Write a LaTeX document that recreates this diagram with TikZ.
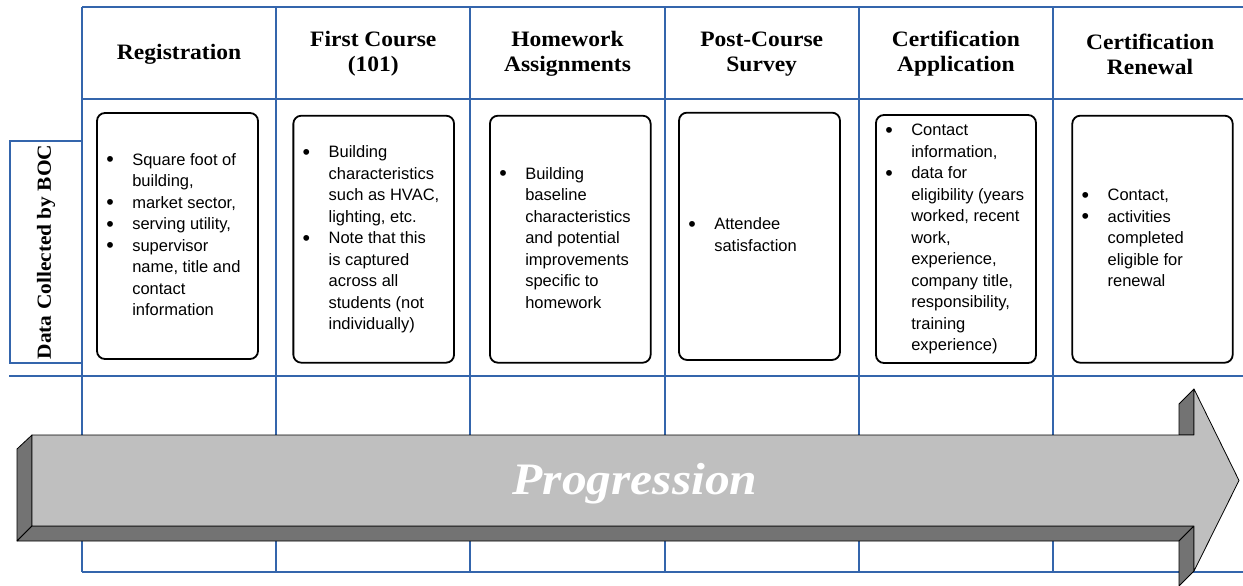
\documentclass[tikz,border=0pt]{standalone}
\usepackage{graphicx}
\usepackage{fontspec}
\setmainfont{Liberation Serif}[FakeStretch=1.07]
\newfontfamily\bodyfont{Liberation Sans}
\newfontfamily\progfont{Liberation Serif}[FakeStretch=1.1]
\definecolor{gridblue}{RGB}{52,101,172}
\definecolor{facegray}{RGB}{191,191,191}
\definecolor{sidegray}{RGB}{115,115,115}
\tikzset{
 gridline/.style={draw=gridblue, line width=2pt},
 infobox/.style={draw=black, line width=1.8pt, rounded corners=8pt, inner sep=0pt},
 headtext/.style={font=\fontsize{22}{25}\selectfont\bfseries, align=center, inner sep=0pt},
 listtext/.style={anchor=west, inner sep=0pt, font=\bodyfont\fontsize{16.5}{21.5}\selectfont},
 arrowface/.style={fill=facegray, draw=black, line width=0.8pt, line join=round},
 arrowside/.style={fill=sidegray, draw=black, line width=0.8pt, line join=round},
}
\newcommand{\blist}[1]{\begin{tabular}{@{}p{26pt}@{}l@{}}#1\end{tabular}}
\newcommand{\bul}{\raisebox{-1.6pt}{\scalebox{1.3}{\textbullet}}}
\begin{document}
\begin{tikzpicture}[x=1pt, y=-1pt]
\useasboundingbox (0,0) rectangle (1243,586);
% grid
\foreach \k in {0,...,6}{
  \draw[gridline] ({82+194.2*\k},7.3) -- ({82+194.2*\k},572);
}
\draw[gridline] (82,7.3) -- (1248,7.3);
\draw[gridline] (82,99.3) -- (1248,99.3);
\draw[gridline] (9,376) -- (1248,376);
\draw[gridline] (82,572) -- (1248,572);
% left label
\node[draw=gridblue, line width=2pt, rotate=90, minimum width=222pt, minimum height=72pt, inner sep=0pt,
      font=\fontsize{20}{24}\selectfont\bfseries] (lab) at (46,252) {Data Collected by BOC};
% headers
\node[headtext] (h1) at ({82+194.2*0.5},54) {Registration};
\node[headtext] (h2) at ({82+194.2*1.5},54) {First Course\\(101)};
\node[headtext] (h3) at ({82+194.2*2.5},54) {Homework\\Assignments};
\node[headtext] (h4) at ({82+194.2*3.5},54) {Post-Course\\Survey};
\node[headtext] (h5) at ({82+194.2*4.5},54) {Certification\\Application};
\node[headtext] (h6) at ({82+194.2*5.5},54) {Certification\\Renewal};
% boxes
\node[infobox, minimum width=161pt, minimum height=246pt] (b1) at (177.5,236) {};
\node[infobox, minimum width=160.7pt, minimum height=247pt] (b2) at (373.7,239.2) {};
\node[infobox, minimum width=160.7pt, minimum height=247pt] (b3) at (570.3,239.2) {};
\node[infobox, minimum width=161pt, minimum height=247.3pt] (b4) at (759.5,236.3) {};
\node[infobox, minimum width=160pt, minimum height=248pt] (b5) at (956,239) {};
\node[infobox, minimum width=160.4pt, minimum height=247pt] (b6) at (1152.5,239.2) {};
% box texts
\node[listtext] (t1) at ([xshift=10pt]b1.west) {\blist{%
\bul & Square foot of\\ & building,\\
\bul & market sector,\\
\bul & serving utility,\\
\bul & supervisor\\ & name, title and\\ & contact\\ & information}};
\node[listtext] (t2) at ([xshift=10pt]b2.west) {\blist{%
\bul & Building\\ & characteristics\\ & such as HVAC,\\ & lighting, etc.\\
\bul & Note that this\\ & is captured\\ & across all\\ & students (not\\ & individually)}};
\node[listtext] (t3) at ([xshift=10pt]b3.west) {\blist{%
\bul & Building\\ & baseline\\ & characteristics\\ & and potential\\ & improvements\\ & specific to\\ & homework}};
\node[listtext] (t4) at ([xshift=10pt]b4.west) {\blist{%
\bul & Attendee\\ & satisfaction}};
\node[listtext] (t5) at ([xshift=10pt]b5.west) {\blist{%
\bul & Contact\\ & information,\\
\bul & data for\\ & eligibility (years\\ & worked, recent\\ & work,\\ & experience,\\ & company title,\\ & responsibility,\\ & training\\ & experience)}};
\node[listtext] (t6) at ([xshift=10pt]b6.west) {\blist{%
\bul & Contact,\\
\bul & activities\\ & completed\\ & eligible for\\ & renewal}};
% arrow
\draw[arrowside] (32,435) -- (17,449) -- (17,541) -- (32,526) -- cycle;
\draw[arrowside] (32,526) -- (17,541) -- (1179,541) -- (1194,526) -- cycle;
\draw[arrowside] (1179,541) -- (1194,526) -- (1194,571) -- (1179,586) -- cycle;
\draw[arrowside] (1179,404) -- (1194,389) -- (1194,435) -- (1179,435) -- cycle;
\draw[arrowface] (32,435) -- (1194,435) -- (1194,389) -- (1239,480.5) -- (1194,571) -- (1194,526) -- (32,526) -- cycle;
\node[font=\progfont\fontsize{45}{50}\selectfont\bfseries\itshape, text=white, anchor=base, inner sep=0pt] (prog) at (635,494) {Progression};
\end{tikzpicture}
\end{document}
